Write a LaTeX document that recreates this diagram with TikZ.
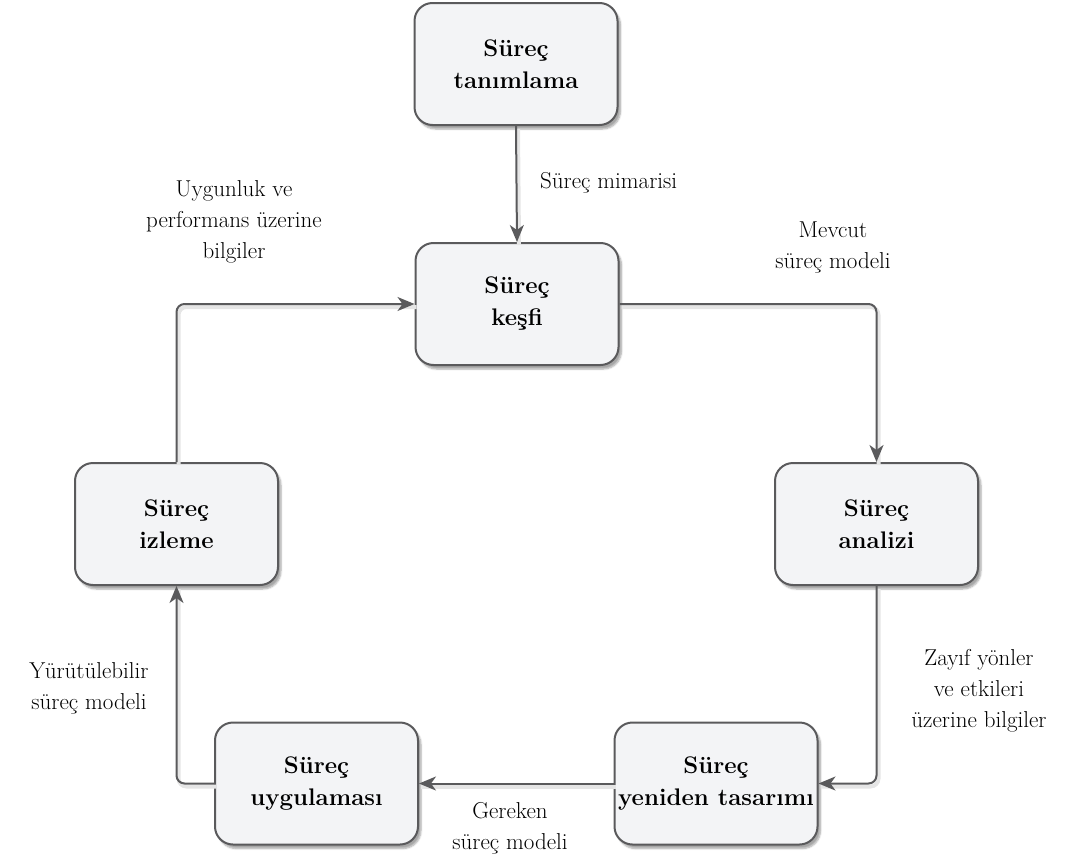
\documentclass[tikz,border=0pt]{standalone}
\usepackage{fontspec}
\setmainfont{Latin Modern Roman}
\usetikzlibrary{arrows.meta,shadows.blur}
\definecolor{edge}{HTML}{5A5A5C}
\definecolor{boxfill}{HTML}{F3F4F6}
\tikzset{
  stage/.style={draw=edge, line width=2pt, fill=boxfill, rounded corners=18pt,
    minimum width=203pt, minimum height=122pt, align=center, inner sep=0pt,
    font=\fontsize{24}{32}\selectfont\bfseries,
    blur shadow={shadow xshift=3pt, shadow yshift=-4pt, shadow blur steps=6, shadow opacity=35}},
  flow/.style={draw=edge, line width=2pt, rounded corners=8pt,
    -{Stealth[length=17pt,width=14pt,inset=5pt]},
    preaction={draw=black!10, line width=4pt, transform canvas={xshift=2pt,yshift=-3pt}, -}},
  lbl/.style={align=center, font=\fontsize{23}{31}\selectfont, inner sep=0pt}
}
\begin{document}
\begin{tikzpicture}[x=1pt,y=-1pt]
\useasboundingbox (0,0) rectangle (1066,862);
% stages of the cycle
\node[stage] (def) at (516,64) {Süreç\\tanımlama};
\node[stage] (disc) at (517,304) {Süreç\\keşfi};
\node[stage] (anal) at (876.5,524) {Süreç\\analizi};
\node[stage] (redes) at (716,783.5) {Süreç\\yeniden tasarımı};
\node[stage] (impl) at (316.5,783.5) {Süreç\\uygulaması};
\node[stage] (mon) at (176.5,524) {Süreç\\izleme};
% connectors
\draw[flow] (def.south) -- (disc.north);
\draw[flow] (disc.east) -| (anal.north);
\draw[flow] (anal.south) |- (redes.east);
\draw[flow] (redes.west) -- (impl.east);
\draw[flow] (impl.west) -| (mon.south);
\draw[flow] (mon.north) |- (disc.west);
% connector labels
\node[lbl, anchor=west] (l1) at (540,183) {Süreç mimarisi};
\node[lbl] (l2) at (833,247) {Mevcut\\süreç modeli};
\node[lbl] (l3) at (979,691) {Zayıf yönler\\ve etkileri\\üzerine bilgiler};
\node[lbl] (l4) at (510,828) {Gereken\\süreç modeli};
\node[lbl] (l5) at (89,688) {Yürütülebilir\\süreç modeli};
\node[lbl] (l6) at (234,222) {Uygunluk ve\\performans üzerine\\bilgiler};
\end{tikzpicture}
\end{document}
